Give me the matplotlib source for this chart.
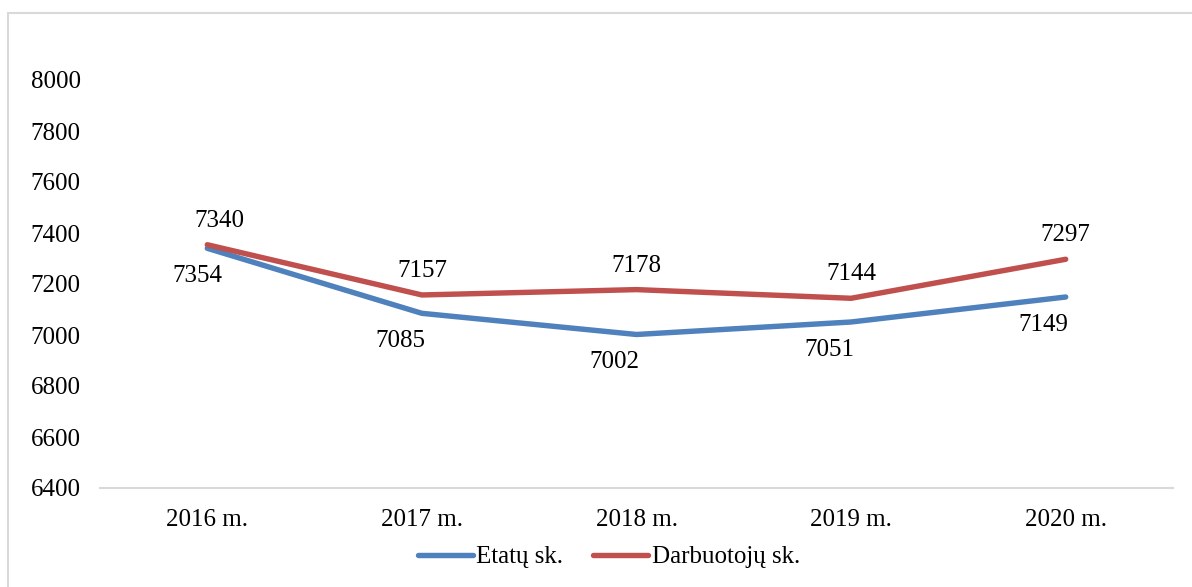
import matplotlib.pyplot as plt
from matplotlib.patches import Rectangle

years = ["2016 m.", "2017 m.", "2018 m.", "2019 m.", "2020 m."]
etatu = [7340, 7085, 7002, 7051, 7149]
darbuotoju = [7354, 7157, 7178, 7144, 7297]
# labels as printed on the original chart (2016 labels are swapped there)
etatu_labels = ["7354", "7085", "7002", "7051", "7149"]
darbuotoju_labels = ["7340", "7157", "7178", "7144", "7297"]

BLUE = "#4F81BD"
RED = "#C0504D"
FS = 18

plt.rcParams["font.family"] = ["Liberation Serif", "DejaVu Serif"]

W, H = 1192, 587
fig = plt.figure(figsize=(W / 100, H / 100), dpi=100)
ax = fig.add_axes([100 / W, 1 - 488 / H, (1173 - 100) / W, (488 - 80) / H])

x = range(len(years))
ax.plot(x, etatu, color=BLUE, lw=3.9, solid_capstyle="round", label="Etatų sk.")
ax.plot(x, darbuotoju, color=RED, lw=3.9, solid_capstyle="round", label="Darbuotojų sk.")

for i, (v, t) in enumerate(zip(etatu, etatu_labels)):
    dx = -10 if i == 0 else -22
    ax.annotate(t, (i, v), xytext=(dx, -28), textcoords="offset pixels",
                ha="center", va="center", fontsize=FS)
for i, (v, t) in enumerate(zip(darbuotoju, darbuotoju_labels)):
    dx = 12 if i == 0 else 0
    ax.annotate(t, (i, v), xytext=(dx, 24), textcoords="offset pixels",
                ha="center", va="center", fontsize=FS)

ax.set_xlim(-0.5, len(years) - 0.5)
ax.set_ylim(6400, 8000)
ax.set_yticks(range(6400, 8001, 200))
ax.set_xticks(list(x))
ax.set_xticklabels(years)
ax.tick_params(axis="both", length=0, labelsize=FS)
ax.tick_params(axis="y", pad=14)
ax.tick_params(axis="x", pad=15)
for s in ["top", "right", "left"]:
    ax.spines[s].set_visible(False)
ax.spines["bottom"].set_color("#d9d9d9")
ax.spines["bottom"].set_linewidth(1.5)

ax.legend(loc="center", bbox_to_anchor=(609 / W, 1 - 557 / H), bbox_transform=fig.transFigure,
          ncol=2, frameon=False, fontsize=FS, handlelength=2.2, handletextpad=0.15,
          columnspacing=1.2)

fig.patches.append(Rectangle((8 / W, -0.1), 1.2, 1.1 - 13 / H, transform=fig.transFigure,
                             fill=False, edgecolor="#d9d9d9", lw=1.5))

fig.savefig("out.png", dpi=100)
